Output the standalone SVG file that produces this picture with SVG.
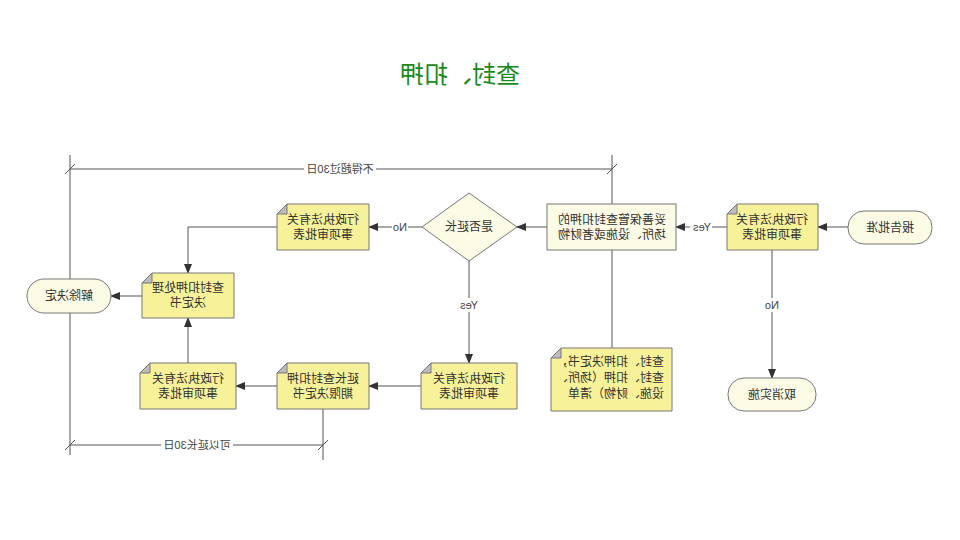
<svg xmlns="http://www.w3.org/2000/svg" width="960" height="540" viewBox="0 0 960 540">
<style>
text{font-family:"Liberation Sans","Noto Sans CJK SC",sans-serif;font-size:12px;fill:#333;text-anchor:middle}
.doc{fill:#f7f29a;stroke:#777;stroke-width:1}
.fold{fill:#bbb;stroke:#777;stroke-width:1}
.pale{fill:#fbfbe6;stroke:#777;stroke-width:1}
.ln{fill:none;stroke:#555;stroke-width:1}
.lbl{font-size:11px;fill:#444}
</style>
<defs><marker id="a" markerWidth="10" markerHeight="8" refX="9" refY="4" orient="auto" markerUnits="userSpaceOnUse"><path d="M0,0L10,4L0,8z" fill="#333"/></marker></defs>
<rect width="960" height="540" fill="#fff"/>
<g transform="translate(960,0) scale(-1,1)">
<text x="500" y="83" style="font-size:24px;fill:#1a8a1a">查封、扣押</text>
<g id="connectors">
<path class="ln" d="M112,227H142" marker-end="url(#a)"/>
<path class="ln" d="M233,227H284" marker-end="url(#a)"/>
<path class="ln" d="M188,250V378" marker-end="url(#a)"/>
<path class="ln" d="M413,227H443" marker-end="url(#a)"/>
<path class="ln" d="M538,227H591" marker-end="url(#a)"/>
<path class="ln" d="M683,227H772V273" marker-end="url(#a)"/>
<path class="ln" d="M491,261V363" marker-end="url(#a)"/>
<path class="ln" d="M539,386H591" marker-end="url(#a)"/>
<path class="ln" d="M683,386H724" marker-end="url(#a)"/>
<path class="ln" d="M772,363V318" marker-end="url(#a)"/>
<path class="ln" d="M818,296H849" marker-end="url(#a)"/>
<path class="ln" d="M348,250V348"/>
<path class="ln" d="M890,155V455M348,155V204M637,409V460"/>
<path class="ln" d="M348,169H890M343,164L353,174M885,164L895,174M637,445H890M632,440L642,450M885,440L895,450"/>
<rect x="248" y="220" width="22" height="14" fill="#fff"/><text class="lbl" x="258" y="231">Yes</text>
<rect x="180" y="298" width="16" height="14" fill="#fff"/><text class="lbl" x="188" y="309">No</text>
<rect x="552" y="220" width="16" height="14" fill="#fff"/><text class="lbl" x="560" y="231">No</text>
<rect x="480" y="298" width="22" height="14" fill="#fff"/><text class="lbl" x="491" y="309">Yes</text>
<rect x="584" y="162" width="72" height="14" fill="#fff"/><text class="lbl" x="620" y="173">不得超过30日</text>
<rect x="727" y="438" width="72" height="14" fill="#fff"/><text class="lbl" x="763" y="449">可以延长30日</text>
</g>
<g id="n_report"><rect class="pale" x="28" y="211" width="84" height="33" rx="16"/><text x="70" y="232">报告批准</text></g>
<g id="n_form1"><path class="doc" d="M142,204H223L233,214V250H142z"/><path class="fold" d="M223,204V214H233z"/><text x="188" y="224">行政执法有关</text><text x="188" y="239">事项审批表</text></g>
<g id="n_cancel"><rect class="pale" x="144" y="378" width="88" height="33" rx="16"/><text x="188" y="399">取消实施</text></g>
<g id="n_keep"><rect class="pale" x="284" y="204" width="129" height="46"/><text x="348" y="224">妥善保管查封扣押的</text><text x="348" y="239">场所、设施或者财物</text></g>
<g id="n_note"><path class="doc" d="M288,348H399L409,358V411H288z"/><path class="fold" d="M399,348V358H409z"/><text x="296" y="366" style="text-anchor:start">查封、扣押决定书，</text><text x="296" y="382" style="text-anchor:start">查封、扣押（场所、</text><text x="296" y="398" style="text-anchor:start">设施、财物）清单</text></g>
<g id="n_extend_q"><path class="pale" d="M491,193L538,227L491,261L443,227z"/><text x="491" y="231">是否延长</text></g>
<g id="n_form2"><path class="doc" d="M591,204H673L683,214V250H591z"/><path class="fold" d="M673,204V214H683z"/><text x="637" y="224">行政执法有关</text><text x="637" y="239">事项审批表</text></g>
<g id="n_decision"><path class="doc" d="M726,273H808L818,283V318H726z"/><path class="fold" d="M808,273V283H818z"/><text x="772" y="292">查封扣押处理</text><text x="772" y="307">决定书</text></g>
<g id="n_release"><rect class="pale" x="849" y="279" width="84" height="34" rx="17"/><text x="891" y="300">解除决定</text></g>
<g id="n_form3"><path class="doc" d="M443,363H529L539,373V409H443z"/><path class="fold" d="M529,363V373H539z"/><text x="491" y="383">行政执法有关</text><text x="491" y="398">事项审批表</text></g>
<g id="n_extdoc"><path class="doc" d="M591,363H673L683,373V409H591z"/><path class="fold" d="M673,363V373H683z"/><text x="637" y="383">延长查封扣押</text><text x="637" y="398">期限决定书</text></g>
<g id="n_form4"><path class="doc" d="M724,363H810L820,373V409H724z"/><path class="fold" d="M810,363V373H820z"/><text x="772" y="383">行政执法有关</text><text x="772" y="398">事项审批表</text></g>
</g>
</svg>
